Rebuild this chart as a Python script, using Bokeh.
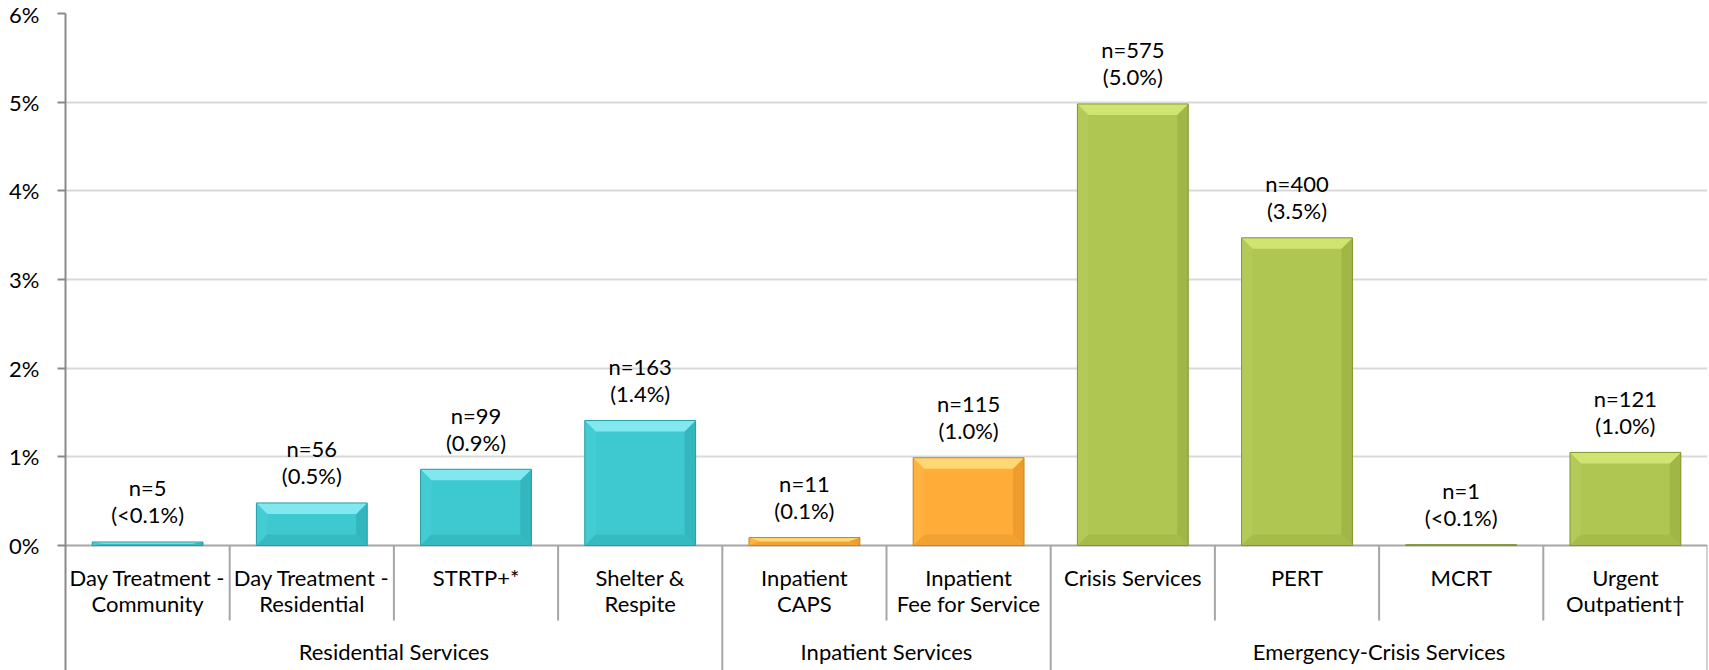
from bokeh.plotting import figure
from bokeh.models import Range1d, FixedTicker, ColumnDataSource
from bokeh.core.properties import value
from bokeh.embed import file_html
from bokeh.resources import INLINE

# ---------------- data ----------------
categories = ["Day Treatment -\nCommunity", "Day Treatment -\nResidential", "STRTP+*",
              "Shelter &\nRespite", "Inpatient\nCAPS", "Inpatient\nFee for Service",
              "Crisis Services", "PERT", "MCRT", "Urgent\nOutpatient\u2020"]
groups = ["Residential Services", "Inpatient Services", "Emergency-Crisis Services"]
group_sizes = [4, 2, 4]
percent = [0.04, 0.48, 0.86, 1.41, 0.09, 0.99, 4.98, 3.47, 0.01, 1.05]
n_labels = ["n=5", "n=56", "n=99", "n=163", "n=11", "n=115", "n=575", "n=400", "n=1", "n=121"]
pct_labels = ["(<0.1%)", "(0.5%)", "(0.9%)", "(1.4%)", "(0.1%)", "(1.0%)", "(5.0%)", "(3.5%)", "(<0.1%)", "(1.0%)"]
y_ticks = [0, 1, 2, 3, 4, 5, 6]
y_tick_labels = ["0%", "1%", "2%", "3%", "4%", "5%", "6%"]

# ---------------- styles ----------------
FONT = "Lato"
FS = "22px"
palette = {
    "Residential Services": dict(main="#3EC8CF", top="#80E8EE", left="#44CCD3", right="#33B6BD", bottom="#35BAC1", line="#2A9CA3"),
    "Inpatient Services": dict(main="#FFAD38", top="#FFD773", left="#FFB240", right="#EE9C2E", bottom="#F2A232", line="#C98420"),
    "Emergency-Crisis Services": dict(main="#AFC653", top="#D0E472", left="#B3CA58", right="#A0B747", bottom="#A5BC4A", line="#7F9634"),
}

W, H = 1709, 670
LEFT, RIGHT, TOP, BOTTOM = 65, 2, 13, 0
YMAX = 6.0
PX_PER_PCT = 88.67
frame_h = H - TOP - BOTTOM
frame_w = W - LEFT - RIGHT
ymin = YMAX - frame_h / PX_PER_PCT
ncat = len(categories)
px_per_x = frame_w / ncat

p = figure(width=W, height=H, output_backend="svg", toolbar_location=None,
           x_range=Range1d(0, ncat), y_range=Range1d(ymin, YMAX),
           x_axis_location=None, min_border_left=LEFT, min_border_right=RIGHT,
           min_border_top=TOP, min_border_bottom=BOTTOM, outline_line_color=None,
           background_fill_color="white", border_fill_color="white")

# axis & grid
p.xgrid.visible = False
ax = p.yaxis[0]
ax.ticker = FixedTicker(ticks=y_ticks)
ax.major_label_overrides = {t: l for t, l in zip(y_ticks, y_tick_labels)}
ax.axis_line_color = "#8A8A8A"
ax.axis_line_width = 2
ax.major_tick_line_color = "#8A8A8A"
ax.major_tick_line_width = 2
ax.major_tick_in = 0
ax.major_tick_out = 8
ax.minor_tick_line_color = None
ax.major_label_standoff = 18
ax.major_label_text_font = FONT
ax.major_label_text_font_size = FS
ax.major_label_text_color = "#000000"
p.ygrid.ticker = FixedTicker(ticks=y_ticks[1:])
p.ygrid.grid_line_color = "#D9D9D9"
p.ygrid.grid_line_width = 2

cat_group = []
for g, s in zip(groups, group_sizes):
    cat_group += [g] * s

xs = [i + 0.5 for i in range(ncat)]
BAR_W = 0.675

p.segment(x0=[0], y0=[0], x1=[ncat], y1=[0], line_color="#A6A6A6", line_width=2)

for key in groups:
    idx = [i for i in range(ncat) if cat_group[i] == key]
    c = palette[key]
    src = ColumnDataSource(dict(x=[xs[i] for i in idx], top=[percent[i] for i in idx]))
    p.vbar(x="x", top="top", bottom=0, width=BAR_W, source=src, fill_color=c["main"], line_color=None)
    bev = 11.0
    tx, ty, lx, ly, rx, ry, bx_, by_ = [], [], [], [], [], [], [], []
    for i in idx:
        x0 = xs[i] - BAR_W / 2
        x1 = xs[i] + BAR_W / 2
        t = percent[i]
        dy = min(bev / PX_PER_PCT, t / 2)
        dx = min(bev / px_per_x, BAR_W / 2)
        tx.append([x0, x1, x1 - dx, x0 + dx]); ty.append([t, t, t - dy, t - dy])
        bx_.append([x0, x1, x1 - dx, x0 + dx]); by_.append([0, 0, dy, dy])
        lx.append([x0, x0, x0 + dx, x0 + dx]); ly.append([0, t, t - dy, dy])
        rx.append([x1, x1, x1 - dx, x1 - dx]); ry.append([0, t, t - dy, dy])
    p.patches(lx, ly, fill_color=c["left"], line_color=None)
    p.patches(rx, ry, fill_color=c["right"], line_color=None)
    p.patches(bx_, by_, fill_color=c["bottom"], line_color=None)
    p.patches(tx, ty, fill_color=c["top"], line_color=None)
    p.vbar(x="x", top="top", bottom=0, width=BAR_W, source=src, fill_color=None,
           line_color=c["line"], line_width=1)

p.text(x=xs, y=percent, text=n_labels, text_align="center", text_baseline="middle",
       y_offset=-54, text_font=value(FONT), text_font_size=FS, text_color="#000000")
p.text(x=xs, y=percent, text=pct_labels, text_align="center", text_baseline="middle",
       y_offset=-27, text_font=value(FONT), text_font_size=FS, text_color="#000000")

line1 = [c.split("\n")[0] for c in categories]
line2 = [c.split("\n")[1] if "\n" in c else "" for c in categories]
zeros = [0] * ncat
p.text(x=xs, y=zeros, text=line1, text_align="center", text_baseline="middle",
       y_offset=32, text_font=value(FONT), text_font_size=FS, text_color="#000000")
p.text(x=xs, y=zeros, text=line2, text_align="center", text_baseline="middle",
       y_offset=58, text_font=value(FONT), text_font_size=FS, text_color="#000000")

starts = []
acc = 0
for s in group_sizes:
    starts.append(acc)
    acc += s
gx = [st + s / 2 for st, s in zip(starts, group_sizes)]
p.text(x=gx, y=[0] * len(groups), text=groups, text_align="center", text_baseline="middle",
       y_offset=106, text_font=value(FONT), text_font_size=FS, text_color="#000000")

group_bounds = set(st + s for st, s in zip(starts, group_sizes))
short_x = [k for k in range(1, ncat + 1) if k not in group_bounds]
long_x = sorted(group_bounds)
short_depth = 75 / PX_PER_PCT
p.segment(x0=short_x, y0=[0] * len(short_x), x1=short_x, y1=[-short_depth] * len(short_x),
          line_color="#A6A6A6", line_width=2)
p.segment(x0=long_x, y0=[0] * len(long_x), x1=long_x, y1=[ymin] * len(long_x),
          line_color="#A6A6A6", line_width=2)

open("out.html", "w").write(file_html(p, INLINE))
